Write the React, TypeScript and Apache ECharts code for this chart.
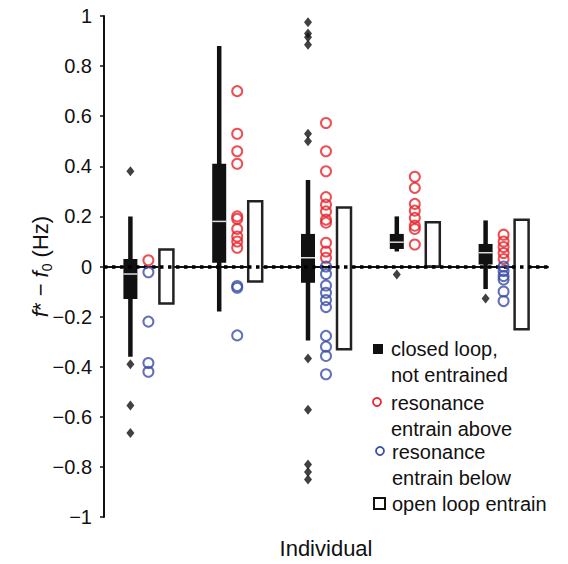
import React, { useEffect, useRef } from "react";
import * as echarts from "echarts";

const categories = ["1", "2", "3", "4", "5"];
// [low whisker, Q1, median, Q3, high whisker] per individual (closed loop, not entrained)
const boxStats = [
  [-0.36, -0.13, -0.03, 0.03, 0.2],
  [-0.18, 0.015, 0.18, 0.41, 0.88],
  [-0.295, -0.065, 0.035, 0.13, 0.345],
  [0.06, 0.07, 0.097, 0.13, 0.2],
  [-0.09, 0.008, 0.055, 0.09, 0.184],
];
const outlierValues = [
  [0.38, -0.39, -0.555, -0.665],
  [],
  [0.975, 0.93, 0.915, 0.885, 0.53, 0.5, -0.367, -0.572, -0.79, -0.82, -0.85],
  [-0.032],
  [-0.128],
];
const aboveValues = [
  [0.025],
  [0.7, 0.53, 0.46, 0.41, 0.2, 0.19, 0.15, 0.12, 0.1, 0.075],
  [0.573, 0.46, 0.38, 0.277, 0.247, 0.22, 0.187, 0.175, 0.095, 0.06, 0.035],
  [0.358, 0.314, 0.25, 0.223, 0.194, 0.163, 0.15, 0.088],
  [0.127, 0.1, 0.078, 0.054, 0.03],
];
const belowValues = [
  [-0.023, -0.22, -0.385, -0.42],
  [-0.078, -0.085, -0.275],
  [0.0, -0.03, -0.076, -0.105, -0.134, -0.162, -0.277, -0.32, -0.357, -0.43],
  [],
  [0.0, -0.018, -0.038, -0.052, -0.1, -0.138],
];
// [low, high] of open loop entrainment range
const openLoopRanges = [
  [-0.148, 0.068],
  [-0.06, 0.26],
  [-0.33, 0.236],
  [0.0, 0.177],
  [-0.25, 0.187],
];
const legendLabels = [
  "closed loop,\nnot entrained",
  "resonance\nentrain above",
  "resonance\nentrain below",
  "open loop entrain",
];

const FONT = "'Liberation Sans', Arial, Helvetica, sans-serif";
const RED = "#e8232b";
const BLUE = "#3b4ea6";
const BLACK = "#111";

const toPairs = (groups: number[][]) =>
  groups.flatMap((vals, i) => vals.map((v) => [i, v]));

export default function App() {
  const ref = useRef<HTMLDivElement>(null);
  useEffect(() => {
    if (!ref.current) return;
    const chart = echarts.init(ref.current, null, { renderer: "svg" });
    const boxData = boxStats.map((s, i) => [i, ...s]);
    const openData = openLoopRanges.map((r, i) => [i, r[0], r[1]]);
    const fmt = (v: number) => {
      if (Math.abs(v) < 1e-9) return "0";
      const s = Math.abs(v).toFixed(1).replace(/\.0$/, "");
      return (v < 0 ? "\u2212" : "") + s;
    };
    const option: any = {
      animation: false,
      grid: { left: 104, right: 20, top: 16, bottom: 46 },
      xAxis: {
        type: "category",
        data: categories,
        boundaryGap: true,
        axisLine: { lineStyle: { color: BLACK, width: 2 } },
        axisTick: { alignWithLabel: true, length: 5, lineStyle: { color: BLACK, width: 1.5 } },
        axisLabel: { show: false },
        name: "Individual",
        nameLocation: "middle",
        nameGap: 20,
        nameTextStyle: { fontSize: 22, color: "#111", fontFamily: FONT },
      },
      yAxis: {
        type: "value",
        min: -1,
        max: 1,
        interval: 0.2,
        splitLine: { show: false },
        axisLine: { show: true, lineStyle: { color: BLACK, width: 2 } },
        axisTick: { show: true, length: 4, lineStyle: { color: BLACK, width: 1.5 } },
        axisLabel: { fontSize: 20, color: "#111", margin: 12, fontFamily: FONT, formatter: fmt },
        name: "{i|f}{n|* \u2212 }{i|f}{s|0}{n| (Hz)}",
        nameLocation: "middle",
        nameGap: 50,
        nameMoveOverlap: false,
        nameTextStyle: {
          fontFamily: FONT,
          color: "#111",
          rich: {
            i: { fontSize: 22, fontStyle: "italic", fontFamily: FONT, color: "#111", lineHeight: 28 },
            n: { fontSize: 22, fontFamily: FONT, color: "#111", lineHeight: 28 },
            s: { fontSize: 14, fontFamily: FONT, color: "#111", lineHeight: 14, verticalAlign: "bottom" },
          },
        },
      },
      series: [
        {
          type: "line",
          data: [],
          z: 1,
          markLine: {
            silent: true,
            symbol: ["none", "none"],
            label: { show: false },
            lineStyle: { color: "#000", width: 3.5, type: [3.5, 4.5] },
            data: [{ yAxis: 0 }],
          },
        },
        {
          type: "custom",
          name: legendLabels[0],
          z: 3,
          data: boxData,
          encode: { x: 0, y: [1, 2, 3, 4, 5] },
          renderItem: (params: any, api: any) => {
            const idx = api.value(0);
            const pLow = api.coord([idx, api.value(1)]);
            const pQ1 = api.coord([idx, api.value(2)]);
            const pMed = api.coord([idx, api.value(3)]);
            const pQ3 = api.coord([idx, api.value(4)]);
            const pHigh = api.coord([idx, api.value(5)]);
            const cx = pLow[0] - 18;
            const w = 14;
            return {
              type: "group",
              children: [
                {
                  type: "line",
                  shape: { x1: cx, y1: pHigh[1], x2: cx, y2: pLow[1] },
                  style: { stroke: BLACK, lineWidth: 4.5 },
                },
                {
                  type: "rect",
                  shape: { x: cx - w / 2, y: pQ3[1], width: w, height: pQ1[1] - pQ3[1] },
                  style: { fill: BLACK },
                },
                {
                  type: "line",
                  shape: { x1: cx - w / 2, y1: pMed[1], x2: cx + w / 2, y2: pMed[1] },
                  style: { stroke: "#ddd", lineWidth: 1.5 },
                },
              ],
            };
          },
        },
        {
          type: "scatter",
          z: 4,
          data: toPairs(outlierValues),
          symbol: "diamond",
          symbolSize: [8, 10],
          symbolOffset: [-18, 0],
          itemStyle: { color: BLACK },
        },
        {
          type: "custom",
          name: legendLabels[3],
          z: 3,
          data: openData,
          encode: { x: 0, y: [1, 2] },
          renderItem: (params: any, api: any) => {
            const idx = api.value(0);
            const pLo = api.coord([idx, api.value(1)]);
            const pHi = api.coord([idx, api.value(2)]);
            const cx = pLo[0] + 18;
            const w = 14;
            return {
              type: "rect",
              shape: { x: cx - w / 2, y: pHi[1], width: w, height: pLo[1] - pHi[1] },
              style: { fill: "#fff", stroke: "#222", lineWidth: 2.5 },
            };
          },
        },
        {
          type: "scatter",
          name: legendLabels[1],
          z: 5,
          data: toPairs(aboveValues),
          symbol: "circle",
          symbolSize: 10,
          itemStyle: { color: "rgba(0,0,0,0)", borderColor: RED, borderWidth: 2 },
        },
        {
          type: "scatter",
          name: legendLabels[2],
          z: 5,
          data: toPairs(belowValues),
          symbol: "circle",
          symbolSize: 10,
          itemStyle: { color: "rgba(0,0,0,0)", borderColor: BLUE, borderWidth: 2 },
        },
      ],
      graphic: [
        { type: "rect", left: 373, top: 344, shape: { width: 10, height: 10 }, style: { fill: BLACK } },
        {
          type: "text", left: 391, top: 336,
          style: { text: legendLabels[0], font: `20px ${FONT}`, fill: "#111", lineHeight: 26 },
        },
        { type: "circle", shape: { cx: 377, cy: 402, r: 4 }, style: { fill: "none", stroke: RED, lineWidth: 1.8 } },
        {
          type: "text", left: 391, top: 390,
          style: { text: legendLabels[1], font: `20px ${FONT}`, fill: "#111", lineHeight: 26 },
        },
        { type: "circle", shape: { cx: 380, cy: 451, r: 4 }, style: { fill: "none", stroke: BLUE, lineWidth: 1.8 } },
        {
          type: "text", left: 392, top: 439,
          style: { text: legendLabels[2], font: `20px ${FONT}`, fill: "#111", lineHeight: 26 },
        },
        { type: "rect", left: 373, top: 497, shape: { width: 11, height: 11 }, style: { fill: "#fff", stroke: "#111", lineWidth: 2 } },
        {
          type: "text", left: 392, top: 491,
          style: { text: legendLabels[3], font: `20px ${FONT}`, fill: "#111", lineHeight: 26 },
        },
      ],
    };
    chart.setOption(option);
    return () => chart.dispose();
  }, []);
  return (
    <div
      ref={ref}
      style={{ position: "fixed", left: 0, top: 0, width: 568, height: 564, background: "#fff" }}
    />
  );
}
